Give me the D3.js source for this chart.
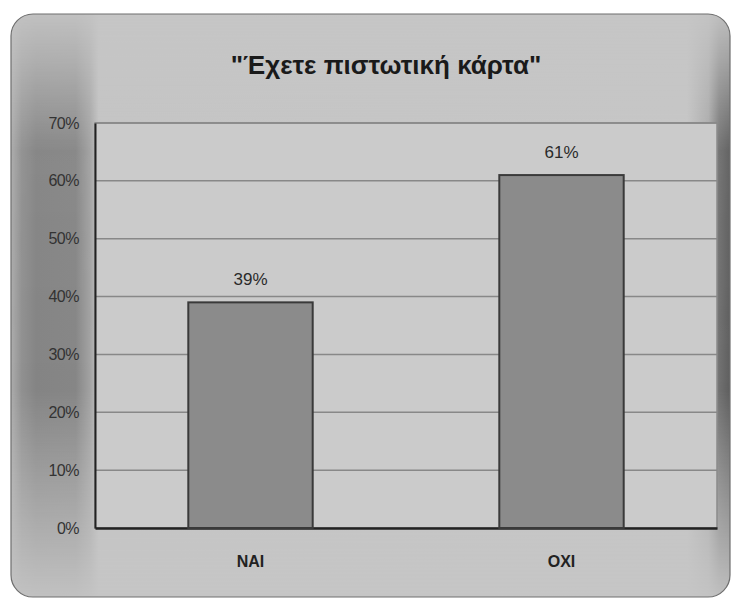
<!DOCTYPE html>
<html>
<head>
<meta charset="utf-8">
<script src="https://cdn.jsdelivr.net/npm/d3@7"></script>
<style>
  html, body { margin: 0; padding: 0; background: #ffffff; }
  svg { display: block; }
</style>
</head>
<body>
<svg id="chart" width="735" height="602"></svg>
<script>
// Survey answers: "Do you have a credit card?"
const chartTitle = "\"Έχετε πιστωτική κάρτα\"";
const categories = ["ΝΑΙ", "ΟΧΙ"];
const shares = [39, 61];
const tickValues = [0, 10, 20, 30, 40, 50, 60, 70];

const svg = d3.select("#chart");
const W = 735, H = 602;
const panel = { x: 11, y: 14, w: 719, h: 583, r: 22 };
const plot = { left: 95, right: 717, top: 123, bottom: 528 };

const defs = svg.append("defs");

// Panel shading: darker bands along the left and right edges
const hGrad = defs.append("linearGradient").attr("id", "panelShade")
  .attr("x1", 0).attr("x2", 1).attr("y1", 0).attr("y2", 0);
[[0, "#acacac"], [0.015, "#909090"], [0.035, "#848484"], [0.09, "#868686"], [0.11, "#a2a2a2"],
 [0.122, "#c4c4c4"], [0.94, "#c6c6c6"], [0.97, "#a8a8a8"], [0.985, "#707070"], [1, "#5e5e5e"]]
  .forEach(([o, c]) => hGrad.append("stop").attr("offset", o).attr("stop-color", c));

const vMaskGrad = defs.append("linearGradient").attr("id", "vFade")
  .attr("x1", 0).attr("x2", 0).attr("y1", 0).attr("y2", 1);
[[0, 0.0], [0.1, 0.35], [0.25, 0.95], [0.65, 1], [0.85, 0.45], [1, 0.05]]
  .forEach(([o, a]) => vMaskGrad.append("stop").attr("offset", o)
    .attr("stop-color", "#fff").attr("stop-opacity", a));
defs.append("mask").attr("id", "fadeMask")
  .append("rect").attr("x", 0).attr("y", 0).attr("width", W).attr("height", H)
  .attr("fill", "url(#vFade)");

defs.append("clipPath").attr("id", "panelClip")
  .append("rect").attr("x", panel.x).attr("y", panel.y)
  .attr("width", panel.w).attr("height", panel.h).attr("rx", panel.r);

// Panel base
svg.append("rect")
  .attr("x", panel.x).attr("y", panel.y).attr("width", panel.w).attr("height", panel.h)
  .attr("rx", panel.r).attr("fill", "#c6c6c6");
svg.append("rect")
  .attr("clip-path", "url(#panelClip)")
  .attr("mask", "url(#fadeMask)")
  .attr("x", panel.x).attr("y", panel.y).attr("width", panel.w).attr("height", panel.h)
  .attr("fill", "url(#panelShade)");
svg.append("rect")
  .attr("x", panel.x).attr("y", panel.y).attr("width", panel.w).attr("height", panel.h)
  .attr("rx", panel.r).attr("fill", "none").attr("stroke", "#6e6e6e").attr("stroke-width", 1.2);

// Scales
const x = d3.scaleBand().domain(categories)
  .range([plot.left, plot.right]).paddingInner(0.6).paddingOuter(0.3);
const y = d3.scaleLinear().domain([0, 70]).range([plot.bottom, plot.top]);

// Plot area
svg.append("rect")
  .attr("x", plot.left).attr("y", plot.top)
  .attr("width", plot.right - plot.left).attr("height", plot.bottom - plot.top)
  .attr("fill", "#cbcbcb").attr("stroke", "#8a8a8a").attr("stroke-width", 1.5);

// Gridlines
svg.append("g").selectAll("line").data(tickValues.filter(v => v > 0)).join("line")
  .attr("x1", plot.left).attr("x2", plot.right)
  .attr("y1", d => y(d)).attr("y2", d => y(d))
  .attr("stroke", "#888888").attr("stroke-width", 1.5);

// Y axis
const yAxis = svg.append("g")
  .attr("transform", `translate(${plot.left},0)`)
  .call(d3.axisLeft(y).tickValues(tickValues).tickFormat(d => d + "%").tickSize(0).tickPadding(16));
yAxis.select(".domain").attr("stroke", "#222").attr("stroke-width", 2);
yAxis.selectAll("text")
  .attr("font-family", "Liberation Sans, Arial, sans-serif")
  .attr("font-size", 16).attr("letter-spacing", -0.5).attr("fill", "#333");

// X axis
const xAxis = svg.append("g")
  .attr("transform", `translate(0,${plot.bottom})`)
  .call(d3.axisBottom(x).tickSize(0).tickPadding(28));
xAxis.select(".domain").attr("stroke", "#222").attr("stroke-width", 2.5);
xAxis.selectAll("text")
  .attr("font-family", "Liberation Sans, Arial, sans-serif")
  .attr("font-size", 16).attr("font-weight", "bold").attr("fill", "#222");

// Bars
svg.append("g").selectAll("rect").data(categories).join("rect")
  .attr("x", d => x(d))
  .attr("y", (d, i) => y(shares[i]))
  .attr("width", x.bandwidth())
  .attr("height", (d, i) => y(0) - y(shares[i]))
  .attr("fill", "#8b8b8b").attr("stroke", "#3a3a3a").attr("stroke-width", 2);

// Value labels
svg.append("g").selectAll("text").data(categories).join("text")
  .attr("x", d => x(d) + x.bandwidth() / 2)
  .attr("y", (d, i) => y(shares[i]) - 17)
  .attr("text-anchor", "middle")
  .attr("font-family", "Liberation Sans, Arial, sans-serif")
  .attr("font-size", 17).attr("fill", "#2a2a2a")
  .text((d, i) => shares[i] + "%");

// Title
svg.append("text")
  .attr("x", 386).attr("y", 74)
  .attr("text-anchor", "middle")
  .attr("font-family", "Liberation Sans, Arial, sans-serif")
  .attr("font-size", 26).attr("font-weight", "bold").attr("fill", "#1a1a1a")
  .text(chartTitle);
</script>
</body>
</html>
